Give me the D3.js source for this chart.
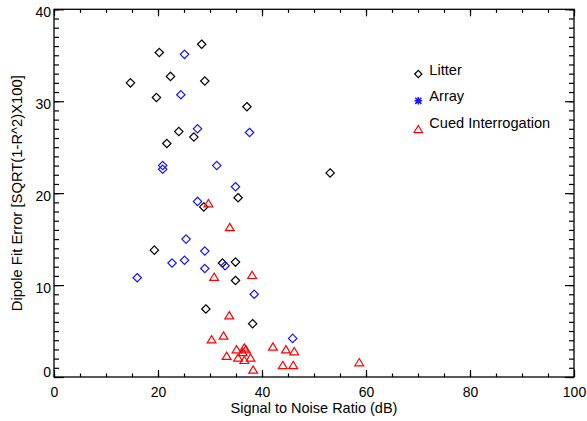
<!DOCTYPE html>
<html>
<head>
<meta charset="utf-8">
<script src="https://cdn.jsdelivr.net/npm/d3@7"></script>
<style>
  body { margin: 0; background: #fff; }
  svg text { font-family: "Liberation Sans", Arial, Helvetica, sans-serif; fill: #000; }
</style>
</head>
<body>
<svg id="chart" width="587" height="421"></svg>
<script>
// Signal to noise (dB) vs dipole fit error
const litter = [
  [14.7, 32.0], [20.25, 35.3], [28.4, 36.2], [22.4, 32.7], [29.0, 32.2],
  [19.7, 30.4], [37.1, 29.4], [24.0, 26.7], [26.9, 26.1], [21.7, 25.4],
  [35.4, 19.5], [53.1, 22.2], [28.8, 18.5], [19.3, 13.8], [32.4, 12.4],
  [34.9, 12.5], [34.9, 10.5], [29.2, 7.4], [38.2, 5.8]
];
const arrayPts = [
  [25.1, 35.1], [24.4, 30.7], [27.6, 27.0], [37.6, 26.6], [20.9, 23.0],
  [20.9, 22.6], [31.3, 23.0], [34.9, 20.7], [27.6, 19.1], [25.4, 15.0],
  [29.0, 13.7], [22.7, 12.4], [25.1, 12.7], [32.9, 12.1], [29.0, 11.8],
  [16.0, 10.8], [38.5, 9.0], [45.9, 4.2]
];
const cued = [
  [29.7, 18.9], [33.8, 16.3], [30.8, 10.9], [38.1, 11.1], [33.7, 6.7],
  [32.6, 4.5], [30.3, 4.1], [33.2, 2.3], [42.1, 3.3], [44.6, 3.0],
  [46.2, 2.8], [35.1, 3.0], [36.6, 3.2], [36.9, 3.0], [36.3, 2.7],
  [35.4, 2.1], [37.8, 2.1], [36.6, 1.85], [38.3, 0.8], [44.0, 1.3],
  [46.0, 1.3], [58.7, 1.6]
];
const legendNames = ["Litter", "Array", "Cued Interrogation"];
const xTicks = [0, 20, 40, 60, 80, 100];
const yTicks = [0, 10, 20, 30, 40];

const svg = d3.select("#chart");
const x = d3.scaleLinear().domain([0, 100]).range([54, 574]);
const y = d3.scaleLinear().domain([0, 40]).range([377, 9.3]);

// custom marker shapes (IDL style)
const diamond = { draw(ctx, r) { ctx.moveTo(0, -r); ctx.lineTo(r, 0); ctx.lineTo(0, r); ctx.lineTo(-r, 0); ctx.closePath(); } };
const triangle = { draw(ctx, r) { ctx.moveTo(0, -r * 0.85); ctx.lineTo(r, r * 0.8); ctx.lineTo(-r, r * 0.8); ctx.closePath(); } };
const asterisk = { draw(ctx, r) {
  ctx.moveTo(0, -r); ctx.lineTo(0, r);
  ctx.moveTo(-r, 0); ctx.lineTo(r, 0);
  ctx.moveTo(-r * 0.8, -r * 0.8); ctx.lineTo(r * 0.8, r * 0.8);
  ctx.moveTo(-r * 0.8, r * 0.8); ctx.lineTo(r * 0.8, -r * 0.8);
} };
const sym = (type, r) => d3.symbol().type(type).size(r)();

// axes
function addAxis(axis, tx, ty, cls) {
  const g = svg.append("g").attr("class", cls).attr("transform", `translate(${tx},${ty})`).call(axis);
  g.select(".domain").remove();
  g.selectAll("line").attr("stroke", "#000").attr("stroke-width", 1.2);
  return g;
}
const noLab = () => "";

// bottom
addAxis(d3.axisBottom(x).tickValues(d3.range(0, 101, 5)).tickSizeInner(-3.5).tickSizeOuter(0).tickFormat(noLab), 0, y(0), "xminor");
const xb = addAxis(d3.axisBottom(x).tickValues(xTicks).tickSizeInner(-7).tickSizeOuter(0).tickPadding(10), 0, y(0), "xmajor");
xb.selectAll("text").style("font-size", "14px");
// top
addAxis(d3.axisTop(x).tickValues(d3.range(0, 101, 5)).tickSizeInner(-3.5).tickSizeOuter(0).tickFormat(noLab), 0, y(40), "tminor");
addAxis(d3.axisTop(x).tickValues(xTicks).tickSizeInner(-7).tickSizeOuter(0).tickFormat(noLab), 0, y(40), "tmajor");
// left
addAxis(d3.axisLeft(y).tickValues(d3.range(0, 41, 1)).tickSizeInner(-5).tickSizeOuter(0).tickFormat(noLab), x(0), 0, "yminor");
const yl = addAxis(d3.axisLeft(y).tickValues(yTicks).tickSizeInner(-10).tickSizeOuter(0).tickPadding(3), x(0), 0, "ymajor");
yl.selectAll("text").style("font-size", "14px").attr("dy", d => d === 0 ? "-0.05em" : "0.52em");
// right
addAxis(d3.axisRight(y).tickValues(d3.range(0, 41, 1)).tickSizeInner(-5).tickSizeOuter(0).tickFormat(noLab), x(100), 0, "rminor");
addAxis(d3.axisRight(y).tickValues(yTicks).tickSizeInner(-9).tickSizeOuter(0).tickFormat(noLab), x(100), 0, "rmajor");

svg.append("rect")
  .attr("x", x(0)).attr("y", y(40))
  .attr("width", x(100) - x(0)).attr("height", y(0) - y(40))
  .attr("fill", "none").attr("stroke", "#000").attr("stroke-width", 1.3);

// titles
svg.append("text")
  .attr("x", (x(0) + x(100)) / 2).attr("y", 413)
  .attr("text-anchor", "middle").style("font-size", "14.5px")
  .text("Signal to Noise Ratio (dB)");
svg.append("text")
  .attr("transform", `translate(21.5,${(y(0) + y(40)) / 2}) rotate(-90)`)
  .attr("text-anchor", "middle").style("font-size", "14.8px")
  .text("Dipole Fit Error [SQRT(1-R^2)X100]");

// points
function plotSeries(data, type, r, color) {
  svg.append("g").selectAll("path")
    .data(data)
    .join("path")
    .attr("d", sym(type, r))
    .attr("transform", d => `translate(${x(d[0])},${y(d[1])})`)
    .attr("fill", "none")
    .attr("stroke", color)
    .attr("stroke-width", 1.2);
}
plotSeries(litter, diamond, 4.2, "#000");
plotSeries(arrayPts, diamond, 4.2, "#1515ff");
plotSeries(cued, triangle, 4.4, "#ff0000");

// legend
const legendTypes = [diamond, asterisk, triangle];
const legendColors = ["#000", "#1515ff", "#ff0000"];
const legendSizes = [3.6, 3.8, 4.3];
const lg = svg.append("g").attr("class", "legend");
legendNames.forEach((name, i) => {
  const yy = 74 + i * 26.8;
  lg.append("path")
    .attr("d", sym(legendTypes[i], legendSizes[i]))
    .attr("transform", `translate(418.3,${yy + (i === 2 ? 1.5 : 0)})`)
    .attr("fill", "none").attr("stroke", legendColors[i])
    .attr("stroke-width", i === 1 ? 1.6 : 1.2);
  lg.append("text")
    .attr("x", 429.3).attr("y", yy + 0.5)
    .style("font-size", "14.6px")
    .text(name);
});
</script>
</body>
</html>
